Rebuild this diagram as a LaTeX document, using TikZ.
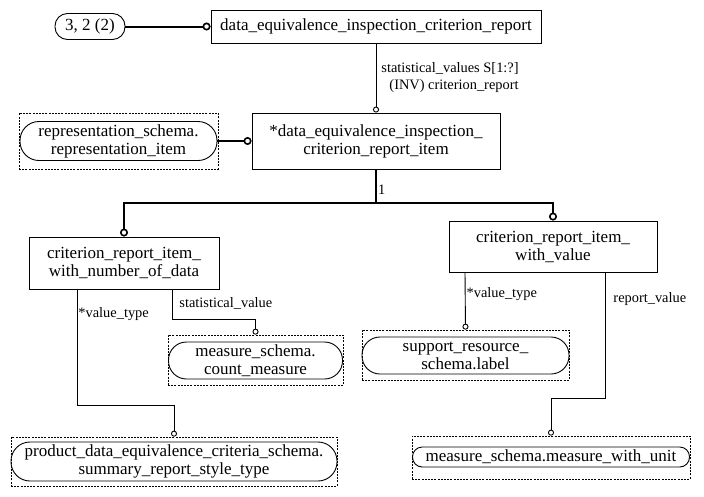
\documentclass[tikz,border=0pt]{standalone}
\usepackage{fontspec}
\setmainfont{Liberation Serif}
\usetikzlibrary{arrows.meta}
\begin{document}
\begin{tikzpicture}[x=1pt,y=-1pt,
  entity/.style={draw,line width=.9pt,inner sep=0pt,align=center,font=\fontsize{17pt}{18pt}\selectfont},
  typebox/.style={draw,dash pattern=on 2pt off 1.2pt,line width=.7pt,inner sep=0pt},
  pill/.style={draw,line width=.9pt,rounded corners=#1,inner sep=0pt,align=center,font=\fontsize{17pt}{18pt}\selectfont},
  lbl/.style={inner sep=1pt,align=right,font=\fontsize{14.4pt}{17pt}\selectfont},
  conn/.style={line width=.9pt,-{Circle[open,length=6pt,width=6pt]}},
  tree/.style={line width=2pt},
  treeend/.style={tree,-{Circle[open,length=8pt,width=8pt,line width=1.6pt]}}]
		\useasboundingbox (0,0) rectangle (704,496);
		\node[pill=12.5pt,minimum width=70pt,minimum height=26pt] (ref) at (90,26.5) {3, 2 (2)};
		\node[entity,minimum width=330pt,minimum height=33pt] (report) at (376,26.5) {data\_equivalence\_inspection\_criterion\_report};
		\node[entity,minimum width=248pt,minimum height=56pt] (item) at (376,141) {*data\_equivalence\_inspection\_\\criterion\_report\_item};
		\node[typebox,minimum width=199pt,minimum height=56pt] (repbox) at (118.5,141) {};
		\node[pill=19pt,minimum width=197pt,minimum height=39pt] (rep) at (118.5,141) {representation\_schema.\\representation\_item};
		\node[entity,minimum width=190pt,minimum height=52pt] (wnd) at (124,263) {criterion\_report\_item\_\\with\_number\_of\_data};
		\node[entity,minimum width=208pt,minimum height=51pt] (wv) at (553,246.5) {criterion\_report\_item\_\\with\_value};
		\node[typebox,minimum width=175pt,minimum height=50pt] (cntbox) at (255.5,360) {};
		\node[pill=18pt,minimum width=174pt,minimum height=37pt] (cnt) at (255.5,360.5) {measure\_schema.\\count\_measure};
		\node[typebox,minimum width=326pt,minimum height=49pt] (sumbox) at (174,461.5) {};
		\node[pill=19pt,minimum width=326pt,minimum height=39pt] (sum) at (174,461.5) {product\_data\_equivalence\_criteria\_schema.\\summary\_report\_style\_type};
		\node[typebox,minimum width=207pt,minimum height=50pt] (lblbox) at (465.5,355) {};
		\node[pill=18pt,minimum width=207pt,minimum height=37pt] (label) at (465.5,355.5) {support\_resource\_\\schema.label};
		\node[typebox,minimum width=278pt,minimum height=43pt] (mwubox) at (551,457.5) {};
		\node[pill=9.8pt,minimum width=277pt,minimum height=20pt] (mwu) at (551,457) {measure\_schema.measure\_with\_unit};
		\draw[treeend] (ref.east) -- (report.west);
		\draw[conn] (report.south) -- node[lbl,right,xshift=4pt]{statistical\_values S[1:?]\\(INV) criterion\_report} (item.north);
		\draw[treeend] (rep.east) -- (item.west);
		\draw[tree] (item.south) -- node[lbl,right,pos=.6]{1} ++(0,34) coordinate (fork);
		\draw[treeend] (fork) -| (wnd.north);
		\draw[treeend] (fork) -| (wv.north);
		\draw[conn] ([xshift=-47pt]wnd.south) -- node[lbl,right,pos=.21]{*value\_type} ++(0,116) -| (sumbox.north);
		\draw[conn] ([xshift=48pt]wnd.south) -- node[lbl,right,pos=.47,xshift=6pt]{statistical\_value} ++(0,30) -| (cntbox.north);
		\draw[conn] ([xshift=-88pt]wv.south) -- node[lbl,right,pos=.38]{*value\_type} (lblbox.north);
		\draw[conn] ([xshift=52pt]wv.south) -- node[lbl,right,pos=.21,xshift=7pt]{report\_value} ++(0,126) -| (mwubox.north);
\end{tikzpicture}
\end{document}
